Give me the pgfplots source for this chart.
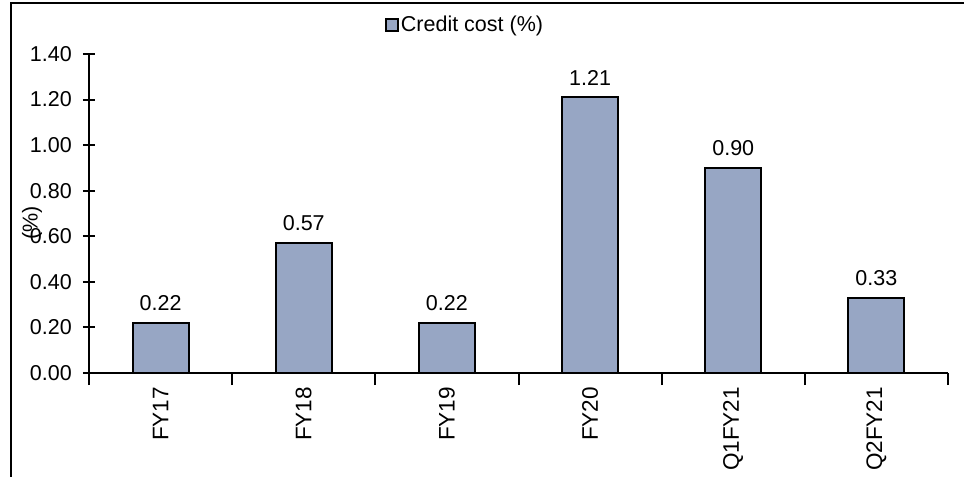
\documentclass[border=0pt]{standalone}
\usepackage{fontspec}
\setmainfont{Liberation Sans}
\usepackage{pgfplots}
\pgfplotsset{compat=1.18}
\definecolor{barblue}{RGB}{151,166,196}

\begin{document}
\begin{tikzpicture}
\fontsize{21bp}{25bp}\selectfont
\useasboundingbox (0,0) rectangle (964bp,477bp);
% outer frame (left and top edges)
\draw[line width=2.2bp] (11bp,-10bp) -- (11bp,474bp) -- (980bp,474bp);
\begin{axis}[
  at={(89bp,104bp)}, anchor=south west,
  width=859bp, height=319bp, scale only axis,
  xmin=-0.5, xmax=5.5, ymin=0, ymax=1.4,
  axis x line*=bottom, axis y line*=left,
  axis line style={line width=2bp, -},
  ytick={0,0.2,...,1.41},
  xtick={0,...,5},
  xticklabels={FY17,FY18,FY19,FY20,Q1FY21,Q2FY21},
  minor xtick={-0.5,0.5,...,5.6},
  major x tick style={draw=none},
  tick align=center,
  major tick length=12bp, minor tick length=12bp,
  every tick/.style={line width=2bp, black},
  tick label style={font=\fontsize{21.5bp}{25bp}\selectfont},
  yticklabel style={/pgf/number format/fixed, /pgf/number format/fixed zerofill, /pgf/number format/precision=2, /pgf/number format/assume math mode=true, xshift=-4bp},
  xticklabel style={rotate=90, anchor=east, inner sep=0pt, xshift=-2bp, font=\fontsize{22.5bp}{25bp}\selectfont},
  ybar, bar width=56bp,
  nodes near coords,
  every node near coord/.append style={font=\fontsize{21.5bp}{25bp}\selectfont, /pgf/number format/fixed, /pgf/number format/fixed zerofill, /pgf/number format/precision=2, /pgf/number format/assume math mode=true, yshift=4bp},
  legend style={at={(0.438,1.091)}, anchor=center, draw=none, fill=none, font=\fontsize{21.5bp}{25bp}\selectfont, inner sep=0pt},
  legend image code/.code={\draw[fill=barblue, draw=black, line width=1.5bp] (0bp,-6bp) rectangle (12bp,6bp);},
  clip=false,
]
\addplot[fill=barblue, draw=black, line width=2bp] coordinates {(0,0.22) (1,0.57) (2,0.22) (3,1.21) (4,0.90) (5,0.33)};
\addlegendentry{Credit cost (\%)}
\end{axis}
\node[rotate=90, inner sep=0pt, font=\fontsize{21.5bp}{25bp}\selectfont] at (32bp,254bp) {(\%)};
\end{tikzpicture}
\end{document}
